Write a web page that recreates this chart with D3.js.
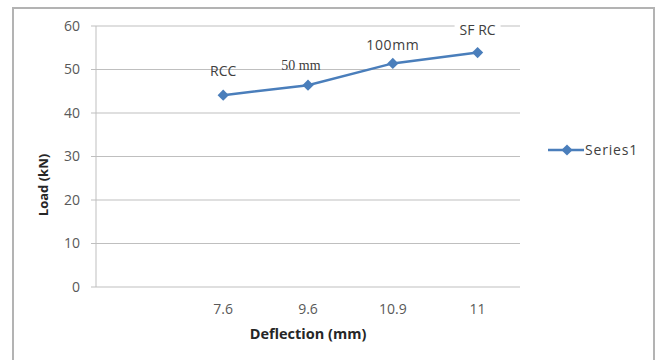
<!DOCTYPE html>
<html>
<head>
<meta charset="utf-8">
<script src="https://cdn.jsdelivr.net/npm/d3@7"></script>
<style>
  body { margin: 0; background: #fff; }
  svg { display: block; }
</style>
</head>
<body>
<div id="chart"></div>
<script>
// Chart data
var categories = ["", "7.6", "9.6", "10.9", "11"];
var loads = [null, 44.1, 46.4, 51.4, 53.9];
var pointLabels = ["", "RCC", "50 mm", "100mm", "SF RC"];
var yTicks = [0, 10, 20, 30, 40, 50, 60];
var seriesName = "Series1";

var width = 655, height = 360;
var margin = {left: 96, right: 135, top: 26, bottom: 73};
var blue = "#4a7ebb";
var font = "Open Sans, sans-serif";

var svg = d3.select("#chart").append("svg")
  .attr("width", width)
  .attr("height", height);

// Outer chart border
svg.append("rect")
  .attr("x", 13).attr("y", 8)
  .attr("width", 641).attr("height", 370)
  .attr("fill", "none")
  .attr("stroke", "#b3b3b3")
  .attr("stroke-width", 2);

var x = d3.scaleBand()
  .domain(categories)
  .range([margin.left, width - margin.right]);

var y = d3.scaleLinear()
  .domain([0, 60])
  .range([height - margin.bottom, margin.top]);

// Gridlines
svg.append("g")
  .selectAll("line")
  .data(yTicks)
  .enter().append("line")
  .attr("x1", margin.left - 5)
  .attr("x2", width - margin.right)
  .attr("y1", d => y(d))
  .attr("y2", d => y(d))
  .attr("stroke", "#bfbfbf")
  .attr("stroke-width", 1);

// Y axis line
svg.append("line")
  .attr("x1", margin.left).attr("x2", margin.left)
  .attr("y1", y(60)).attr("y2", y(0))
  .attr("stroke", "#bfbfbf");

// Y tick labels
svg.append("g")
  .selectAll("text")
  .data(yTicks)
  .enter().append("text")
  .attr("x", 80)
  .attr("y", d => y(d))
  .attr("dy", "0.35em")
  .attr("text-anchor", "end")
  .attr("font-family", font)
  .attr("font-size", 14)
  .attr("fill", "#595959")
  .text(d => d);

// X tick labels
svg.append("g")
  .selectAll("text")
  .data(categories)
  .enter().append("text")
  .attr("x", d => x(d) + x.bandwidth() / 2)
  .attr("y", 314)
  .attr("text-anchor", "middle")
  .attr("font-family", font)
  .attr("font-size", 14)
  .attr("fill", "#595959")
  .text(d => d);

// Axis titles
svg.append("text")
  .attr("x", (margin.left + width - margin.right) / 2)
  .attr("y", 339)
  .attr("text-anchor", "middle")
  .attr("font-family", font)
  .attr("font-size", 14.5)
  .attr("font-weight", "bold")
  .attr("fill", "#262626")
  .text("Deflection (mm)");

svg.append("text")
  .attr("transform", "translate(43,185) rotate(-90)")
  .attr("text-anchor", "middle")
  .attr("dy", "0.35em")
  .attr("font-family", font)
  .attr("font-size", 13)
  .attr("font-weight", "bold")
  .attr("fill", "#262626")
  .text("Load (kN)");

// Series
var pts = categories.map((c, i) => ({cat: c, v: loads[i], label: pointLabels[i]}))
  .filter(d => d.v !== null);

var line = d3.line()
  .x(d => x(d.cat) + x.bandwidth() / 2)
  .y(d => y(d.v));

svg.append("path")
  .datum(pts)
  .attr("d", line)
  .attr("fill", "none")
  .attr("stroke", blue)
  .attr("stroke-width", 2.5);

var diamond = d3.symbol().type(d3.symbolDiamond2).size(80);

svg.append("g")
  .selectAll("path")
  .data(pts)
  .enter().append("path")
  .attr("d", diamond)
  .attr("transform", d => "translate(" + (x(d.cat) + x.bandwidth() / 2) + "," + y(d.v) + ")")
  .attr("fill", blue);

// Data labels
var labelOffsets = {"RCC": [0, -24], "50 mm": [-7, -20], "100mm": [0, -18], "SF RC": [0, -22]};
var lbl = svg.append("g")
  .selectAll("g")
  .data(pts)
  .enter().append("g")
  .attr("transform", d => {
    var o = labelOffsets[d.label];
    return "translate(" + (x(d.cat) + x.bandwidth() / 2 + o[0]) + "," + (y(d.v) + o[1]) + ")";
  });

lbl.filter(d => d.label === "SF RC").append("rect")
  .attr("x", -23).attr("y", -10)
  .attr("width", 46).attr("height", 18)
  .attr("fill", "#fff");

lbl.append("text")
  .attr("text-anchor", "middle")
  .attr("dy", "0.35em")
  .attr("font-family", d => d.label === "50 mm" ? "Liberation Serif, serif" : font)
  .attr("font-size", d => d.label === "50 mm" ? 14 : 14)
  .attr("letter-spacing", d => d.label === "100mm" ? 0.6 : 0)
  .attr("fill", "#404040")
  .text(d => d.label);

// Legend
var legend = svg.append("g").attr("transform", "translate(548,150)");
legend.append("line")
  .attr("x1", 0).attr("x2", 36)
  .attr("stroke", blue).attr("stroke-width", 2.5);
legend.append("path")
  .attr("d", diamond)
  .attr("transform", "translate(19,0)")
  .attr("fill", blue);
legend.append("text")
  .attr("x", 37)
  .attr("dy", "0.35em")
  .attr("font-family", font)
  .attr("font-size", 14)
  .attr("letter-spacing", 0.8)
  .attr("fill", "#404040")
  .text(seriesName);
</script>
</body>
</html>
